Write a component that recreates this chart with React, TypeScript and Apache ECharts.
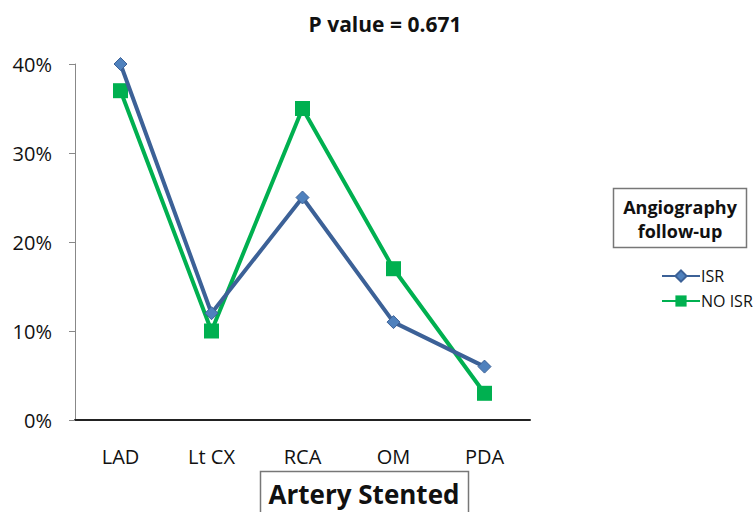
import React, { useEffect, useRef } from "react";
import * as echarts from "echarts";

const categories = ["LAD", "Lt CX", "RCA", "OM", "PDA"];
const isrValues = [40, 12, 25, 11, 6];
const noIsrValues = [37, 10, 35, 17, 3];
const yTicks = [0, 10, 20, 30, 40];
const seriesNames = ["ISR", "NO ISR"];

const FONT = "'Open Sans', 'Noto Sans', sans-serif";

export default function App() {
  const ref = useRef<HTMLDivElement>(null);
  useEffect(() => {
    if (!ref.current) return;
    const chart = echarts.init(ref.current, null, { renderer: "svg" });
    chart.setOption({
      animation: false,
      backgroundColor: "#ffffff",
      textStyle: { fontFamily: FONT },
      title: {
        text: "P value = 0.671",
        left: 380,
        textAlign: "center",
        top: 8,
        textStyle: { fontFamily: FONT, fontWeight: "bold", fontSize: 21, color: "#111" },
      },
      grid: { left: 75, top: 64, width: 455, height: 356, containLabel: false },
      legend: {
        orient: "vertical",
        left: 656,
        top: 263,
        itemGap: 9,
        itemWidth: 38,
        itemHeight: 14,
        textStyle: { fontFamily: FONT, fontSize: 16, color: "#111", padding: [0, 0, 0, -4] },
        data: [seriesNames[0], seriesNames[1]],
      },
      xAxis: {
        type: "category",
        data: categories,
        boundaryGap: true,
        axisLine: { lineStyle: { color: "#222", width: 2 } },
        axisTick: { show: false },
        axisLabel: { fontFamily: FONT, fontSize: 20, color: "#111", margin: 26 },
      },
      yAxis: {
        type: "value",
        min: yTicks[0],
        max: yTicks[yTicks.length - 1],
        interval: 10,
        splitLine: { show: false },
        axisLine: { show: true, lineStyle: { color: "#888" } },
        axisTick: { show: true, length: 6, lineStyle: { color: "#888" } },
        axisLabel: { fontFamily: FONT, fontSize: 20, color: "#111", margin: 23, formatter: "{value}%" },
      },
      series: [
        {
          name: seriesNames[0],
          type: "line",
          data: isrValues,
          symbol: "diamond",
          symbolSize: 13,
          lineStyle: { color: "#3C6197", width: 4 },
          itemStyle: { color: "#4F81BD", borderColor: "#3C6197", borderWidth: 1 },
          z: 3,
        },
        {
          name: seriesNames[1],
          type: "line",
          data: noIsrValues,
          symbol: "rect",
          symbolSize: 15,
          lineStyle: { color: "#00B050", width: 4 },
          itemStyle: { color: "#00B050" },
          z: 2,
        },
      ],
      graphic: [
        {
          type: "rect",
          shape: { x: 613.5, y: 188.5, width: 133, height: 59 },
          style: { fill: "#fff", stroke: "#777", lineWidth: 1.5 },
        },
        {
          type: "text",
          x: 680,
          y: 207,
          style: {
            text: "Angiography",
            font: `bold 18px ${FONT}`,
            fill: "#111",
            align: "center",
            verticalAlign: "middle",
          },
        },
        {
          type: "text",
          x: 680,
          y: 231,
          style: {
            text: "follow-up",
            font: `bold 18px ${FONT}`,
            fill: "#111",
            align: "center",
            verticalAlign: "middle",
          },
        },
        {
          type: "rect",
          shape: { x: 260.5, y: 471.5, width: 208, height: 50 },
          style: { fill: "#fff", stroke: "#777", lineWidth: 1.5 },
        },
        {
          type: "text",
          x: 364,
          y: 494,
          style: {
            text: "Artery Stented",
            font: `bold 26px ${FONT}`,
            fill: "#111",
            align: "center",
            verticalAlign: "middle",
          },
        },
      ],
    });
    return () => chart.dispose();
  }, []);
  return <div ref={ref} style={{ width: 755, height: 512, position: "absolute", left: 0, top: 0 }} />;
}
